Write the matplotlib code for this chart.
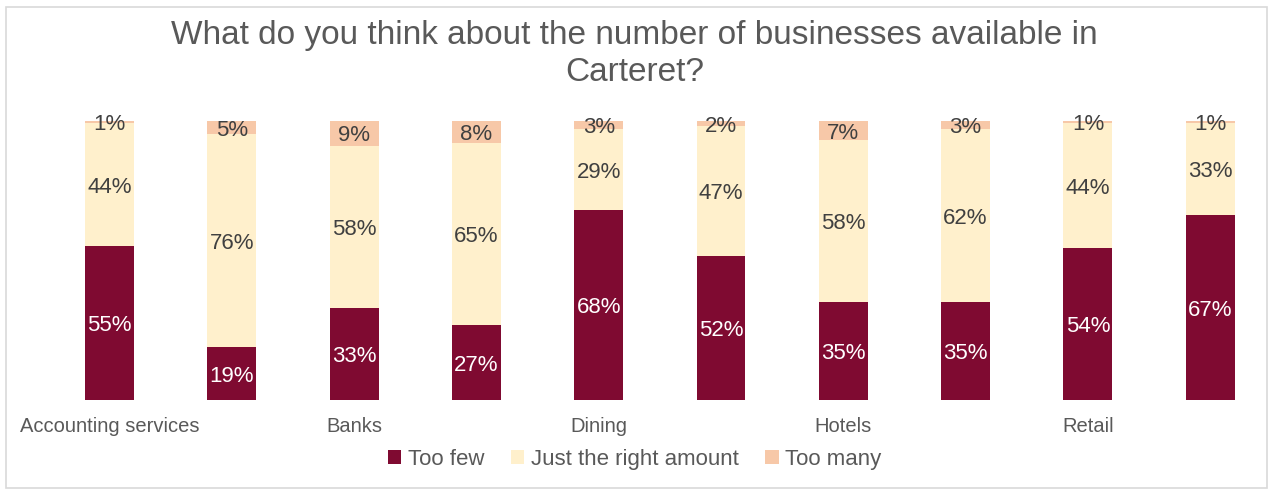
import numpy as np
import matplotlib.pyplot as plt
from matplotlib.patches import Rectangle

plt.rcParams["font.family"] = ["Liberation Sans", "DejaVu Sans"]

categories = ["Accounting services", "", "Banks", "", "Dining", "", "Hotels", "", "Retail", ""]
too_few = [55, 19, 33, 27, 68, 52, 35, 35, 54, 67]
just_right = [44, 76, 58, 65, 29, 47, 58, 62, 44, 33]
too_many = [1, 5, 9, 8, 3, 2, 7, 3, 1, 1]

series = [("Too few", too_few, "#7F0A31", "white"),
          ("Just the right amount", just_right, "#FFF0CC", "#404040"),
          ("Too many", too_many, "#F7C8A8", "#404040")]

W, H = 1269, 490
fig = plt.figure(figsize=(W / 100, H / 100), dpi=100)

# plot area placed in pixel coordinates
x0_px, step_px = 109.5, 122.3
y_top, y_bot = 120.5, 400
ax = fig.add_axes([0, 1 - y_bot / H, 1, (y_bot - y_top) / H])
ax.set_xlim(-x0_px / step_px, (W - x0_px) / step_px)
ax.set_ylim(0, 100)

totals = np.array(too_few) + np.array(just_right) + np.array(too_many)
x = np.arange(len(categories))
bottom = np.zeros(len(categories))
for name, vals, color, tcolor in series:
    share = np.array(vals) / totals * 100
    ax.bar(x, share, 0.4, bottom=bottom, color=color, label=name)
    for xi, b, s, v in zip(x, bottom, share, vals):
        ax.text(xi, b + s / 2 - 1.0, f"{v}%", ha="center", va="center",
                fontsize=16, color=tcolor)
    bottom += share

ax.set_xticks(x)
ax.set_xticklabels(categories, fontsize=14.5, color="#595959")
ax.tick_params(axis="x", length=0, pad=12)
ax.set_yticks([])
for s in ax.spines.values():
    s.set_visible(False)

fig.text(0.5, 1 - 54 / H, "What do you think about the number of businesses available in\nCarteret?",
         ha="center", va="center", fontsize=24, color="#595959", linespacing=1.28)

fig.legend(loc="center", bbox_to_anchor=(0.5, 1 - 459 / H), ncol=3, frameon=False,
           fontsize=16, labelcolor="#595959", handlelength=0.6, handleheight=0.6,
           handletextpad=0.3, columnspacing=1.2)

fig.patches.append(Rectangle((6 / W, 2 / H), 1 - 8 / W, 1 - 9 / H, transform=fig.transFigure,
                             fill=False, edgecolor="#D9D9D9", linewidth=1.2))

fig.savefig("out.png", dpi=100)
